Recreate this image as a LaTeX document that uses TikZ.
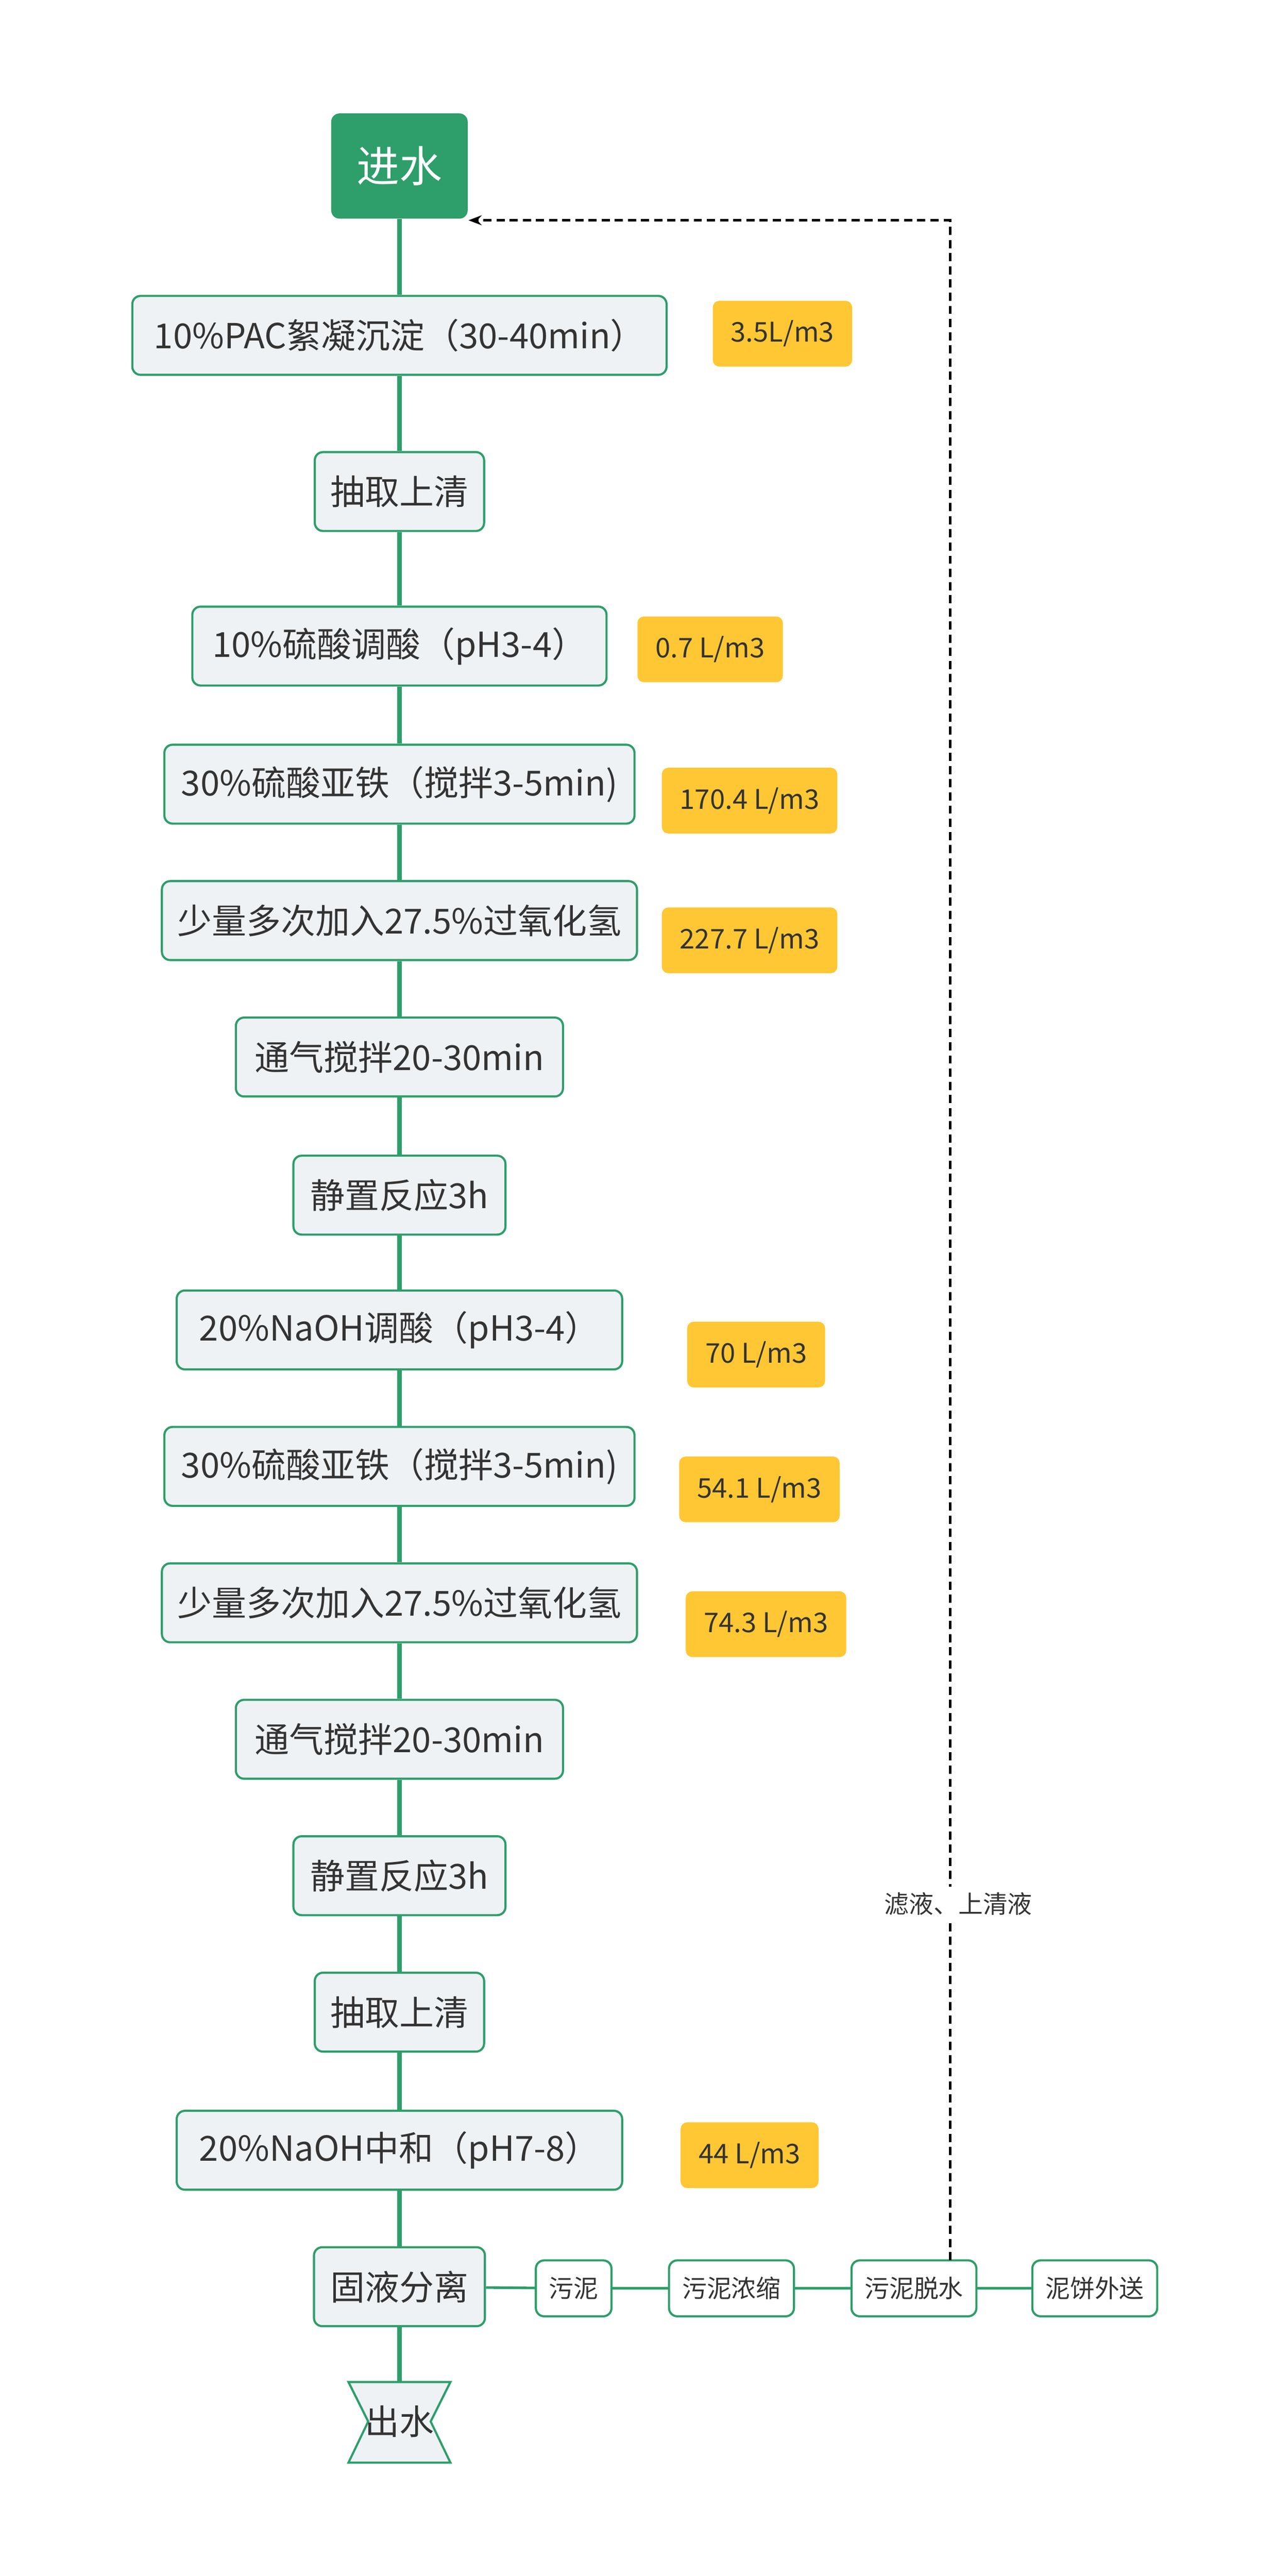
\documentclass[tikz,border=0pt]{standalone}
\usepackage{fontspec}
\setmainfont{Noto Sans CJK SC}
\usetikzlibrary{arrows.meta,positioning}
\definecolor{trunkgreen}{HTML}{2E9E6A}
\definecolor{boxfill}{HTML}{EEF2F5}
\definecolor{tagyellow}{HTML}{FFC733}
\definecolor{textgray}{HTML}{333333}
\tikzset{
    stepbox/.style = {draw=trunkgreen, line width=1.3pt, fill=boxfill, rounded corners=5pt,
        minimum height=48pt, inner xsep=6pt, text=textgray, font=\fontsize{21}{24}\selectfont},
    smallbox/.style = {draw=trunkgreen, line width=1.3pt, fill=white, rounded corners=5pt,
        minimum height=34pt, inner xsep=8pt, text=textgray, font=\fontsize{15}{18}\selectfont},
    dosetag/.style = {fill=tagyellow, rounded corners=4pt, minimum height=40pt,
        inner xsep=11pt, text=textgray, font=\fontsize{16.5}{19}\selectfont},
    trunk/.style = {draw=trunkgreen, line width=2.6pt},
    branch/.style = {draw=trunkgreen, line width=1.6pt}
}
\begin{document}
\begin{tikzpicture}[x=1pt,y=-1pt]
    \useasboundingbox (0,0) rectangle (775,1567);

    \node[fill=trunkgreen, rounded corners=5pt, minimum width=83pt, minimum height=64pt,
        text=white, font=\fontsize{26}{30}\selectfont] (in) at (243,101) {进水};

    \foreach \n/\y/\w/\txt in {%
        1/204/325/{10\%PAC絮凝沉淀（30-40min）},
        2/299/103/{抽取上清},
        3/393/252/{10\%硫酸调酸（pH3-4）},
        4/477/286/{30\%硫酸亚铁（搅拌3-5min)},
        5/560/289/{少量多次加入27.5\%过氧化氢},
        6/643/199/{通气搅拌20-30min},
        7/727/129/{静置反应3h},
        8/809/271/{20\%NaOH调酸（pH3-4）},
        9/892/286/{30\%硫酸亚铁（搅拌3-5min)},
        10/975/289/{少量多次加入27.5\%过氧化氢},
        11/1058/199/{通气搅拌20-30min},
        12/1141/129/{静置反应3h},
        13/1224/103/{抽取上清},
        14/1308/271/{20\%NaOH中和（pH7-8）},
        15/1391/104/{固液分离}%
        }
        \node[stepbox, minimum width=\w pt] (s\n) at (243,\y) {\txt};

    \draw[trunkgreen, line width=1.3pt, fill=boxfill]
        (212,1449) -- (274,1449) -- (262,1473) -- (274,1498) -- (212,1498) -- (224,1473) -- cycle;
    \node[text=textgray, font=\fontsize{21}{24}\selectfont] (out) at (243,1473) {出水};
    \coordinate (outtop) at (243,1449);

    % trunk
    \draw[trunk] (in) -- (s1);
    \foreach \x [remember=\x as \lastx (initially 1)] in {2,...,15}
        \draw[trunk] (s\lastx) -- (s\x);
    \draw[trunk] (s15) -- (outtop);

    % dosage tags
    \node[dosetag] (d1) at (476,203) {3.5L/m3};
    \node[dosetag] (d3) at (432,395) {0.7 L/m3};
    \node[dosetag] (d4) at (456,487) {170.4 L/m3};
    \node[dosetag] (d5) at (456,572) {227.7 L/m3};
    \node[dosetag] (d8) at (460,824) {70 L/m3};
    \node[dosetag] (d9) at (462,906) {54.1 L/m3};
    \node[dosetag] (d10) at (466,988) {74.3 L/m3};
    \node[dosetag] (d14) at (456,1311) {44 L/m3};

    % sludge line
    \node[smallbox] (sludge) at (349,1392) {污泥};
    \node[smallbox] (thick) at (445,1392) {污泥浓缩};
    \node[smallbox] (dewater) at (556,1392) {污泥脱水};
    \node[smallbox] (cake) at (666,1392) {泥饼外送};
    \draw[branch] (s15) -- (sludge);
    \draw[branch] (sludge) -- (thick);
    \draw[branch] (thick) -- (dewater);
    \draw[branch] (dewater) -- (cake);

    % return of filtrate
    \coordinate (ret1) at (578,1375);
    \coordinate (ret2) at (578,134);
    \coordinate (ret3) at (285,134);
    \draw[dash pattern=on 5pt off 3pt, line width=1.6pt, -{Stealth[length=8pt]}]
        (ret1) -- (ret2) -- (ret3);
    \node[fill=white, text=textgray, font=\fontsize{15}{18}\selectfont] (retlabel) at (583,1158) {滤液、上清液};
\end{tikzpicture}
\end{document}
